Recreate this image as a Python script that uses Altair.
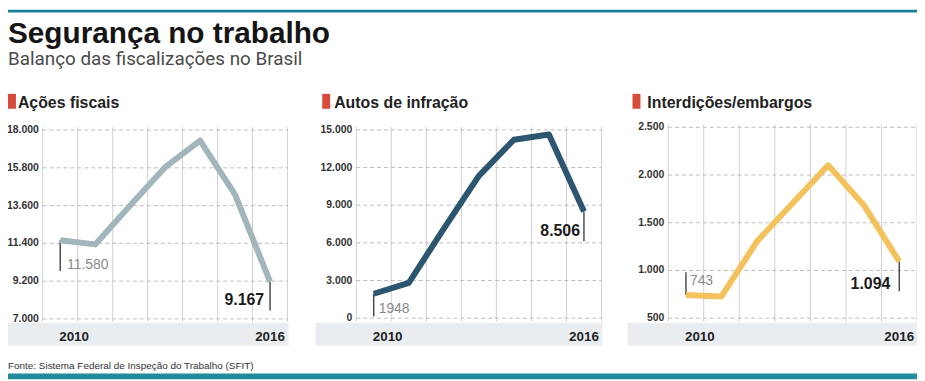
import altair as alt
import pandas as pd

# ---------------- data ----------------
years = [2010, 2011, 2012, 2013, 2014, 2015, 2016]
acoes = [11580, 11340, 13600, 15840, 17390, 14240, 9167]
autos = [1948, 2820, 7130, 11340, 14210, 14630, 8506]
interd = [743, 728, 1306, 1704, 2102, 1687, 1094]

panel_titles = ["Ações fiscais", "Autos de infração", "Interdições/embargos"]
ticks_acoes = [7000, 9200, 11400, 13600, 15800, 18000]
ticks_autos = [0, 3000, 6000, 9000, 12000, 15000]
ticks_interd = [500, 1000, 1500, 2000, 2500]
start_labels = ["11.580", "1948", "743"]
end_labels = ["9.167", "8.506", "1.094"]
year_labels = ["2010", "2016"]

chart_title = "Segurança no trabalho"
chart_subtitle = "Balanço das fiscalizações no Brasil"
source_note = "Fonte: Sistema Federal de Inspeção do Trabalho (SFIT)"

series = [acoes, autos, interd]
ticks = [ticks_acoes, ticks_autos, ticks_interd]

# ---------------- style / layout ----------------
W, H = 917, 373
FONT = "Liberation Sans"
layout = [
    dict(color="#a2b5ba", xr=[35, 282], yr=[312, 121.5], sq=0, tx=10,
         start=(31, 7, 25), end=(29, -6, 18)),
    dict(color="#2c5570", xr=[351.3, 598.7], yr=[311.3, 121.3], sq=317, tx=329,
         start=(23, 5, 15), end=(30, -4, 20)),
    dict(color="#f4c25c", xr=[666, 917], yr=[311.3, 118.7], sq=630, tx=645,
         start=(-23, 4, -14), end=(30, -9, 23)),
]


def fmt(v):
    return f"{v:,}".replace(",", ".")


def panel(i):
    p = layout[i]
    vals = series[i]
    tk = ticks[i]
    lo, hi = years[0] - 0.5, years[-1] + 0.5

    def X(f):
        return alt.X(f, type="quantitative", axis=None,
                     scale=alt.Scale(domain=[lo, hi], range=p["xr"], nice=False, zero=False))

    def Y(f):
        return alt.Y(f, type="quantitative", axis=None,
                     scale=alt.Scale(domain=[tk[0], tk[-1]], range=p["yr"], nice=False, zero=False))

    df = pd.DataFrame({"year": years, "value": vals})
    grid_x = pd.DataFrame({"gx": [y - 0.5 for y in years] + [hi], "top": tk[-1]})
    grid_y = pd.DataFrame({"tick": tk, "x0": lo, "x1": hi, "label": [fmt(t) for t in tk]})
    band = pd.DataFrame({"x0": [lo], "x1": [hi]})
    first = pd.DataFrame({"year": [years[0]], "value": [vals[0]], "label": [start_labels[i]]})
    last = pd.DataFrame({"year": [years[-1]], "value": [vals[-1]], "label": [end_labels[i]]})
    yl_first = pd.DataFrame({"year": [int(year_labels[0])], "label": [year_labels[0]]})
    yl_last = pd.DataFrame({"year": [int(year_labels[1])], "label": [year_labels[1]]})
    head = pd.DataFrame({"t": [panel_titles[i]]})

    layers = []
    layers.append(alt.Chart(band).mark_rect(color="#e9edf0", xOffset=-41, x2Offset=1).encode(
        x=X("x0"), x2=alt.X2("x1"), y=alt.value(316), y2=alt.value(339)))
    layers.append(alt.Chart(grid_x).mark_rule(color="#d0d0d0", strokeWidth=1, yOffset=-3).encode(
        x=X("gx"), y=Y("top"), y2=alt.value(315)))
    layers.append(alt.Chart(grid_y).mark_rule(color="#bdbdbd", strokeWidth=1, strokeDash=[4, 3]).encode(
        x=X("x0"), x2=alt.X2("x1"), y=Y("tick")))
    layers.append(alt.Chart(grid_y).mark_text(align="right", baseline="middle", dx=-4, font=FONT,
                                              fontSize=10.5, fontWeight="bold", color="#333333").encode(
        x=X("x0"), y=Y("tick"), text="label:N"))
    so, sdx, sdy = p["start"]
    eo, edx, edy = p["end"]
    layers.append(alt.Chart(first).mark_rule(color="#222222", strokeWidth=1.2, y2Offset=so).encode(
        x=X("year"), y=Y("value"), y2=alt.Y2("value")))
    layers.append(alt.Chart(last).mark_rule(color="#222222", strokeWidth=1.2, y2Offset=eo).encode(
        x=X("year"), y=Y("value"), y2=alt.Y2("value")))
    layers.append(alt.Chart(df).mark_line(color=p["color"], strokeWidth=6, strokeJoin="round").encode(
        x=X("year"), y=Y("value")))
    layers.append(alt.Chart(first).mark_text(align="left", baseline="middle", dx=sdx, dy=sdy, font=FONT,
                                             fontSize=14, color="#8a8a8a").encode(
        x=X("year"), y=Y("value"), text="label:N"))
    layers.append(alt.Chart(last).mark_text(align="right", baseline="middle", dx=edx, dy=edy, font=FONT,
                                            fontSize=16, fontWeight="bold", color="#1a1a1a").encode(
        x=X("year"), y=Y("value"), text="label:N"))
    layers.append(alt.Chart(yl_first).mark_text(align="left", baseline="middle", dx=-1, font=FONT,
                                                fontSize=13.5, fontWeight="bold", color="#222222").encode(
        x=X("year"), y=alt.value(330), text="label:N"))
    layers.append(alt.Chart(yl_last).mark_text(align="center", baseline="middle", font=FONT,
                                               fontSize=13.5, fontWeight="bold", color="#222222").encode(
        x=X("year"), y=alt.value(330), text="label:N"))
    layers.append(alt.Chart(head).mark_rect(color="#d84a3a").encode(
        x=alt.value(p["sq"]), x2=alt.value(p["sq"] + 8), y=alt.value(85), y2=alt.value(100)))
    layers.append(alt.Chart(head).mark_text(align="left", baseline="alphabetic", font=FONT,
                                            fontSize=16, fontWeight="bold", color="#222222").encode(
        x=alt.value(p["tx"]), y=alt.value(99), text="t:N"))
    return layers


layers = []
one = pd.DataFrame({"t": [chart_title], "s": [chart_subtitle], "f": [source_note]})
layers.append(alt.Chart(one).mark_rect(color="#1a7f94").encode(
    x=alt.value(0), x2=alt.value(W), y=alt.value(0), y2=alt.value(3)))
layers.append(alt.Chart(one).mark_rect(color="#238c9c").encode(
    x=alt.value(0), x2=alt.value(W), y=alt.value(367), y2=alt.value(373)))
layers.append(alt.Chart(one).mark_text(align="left", baseline="alphabetic", font=FONT,
                                       fontSize=30, fontWeight="bold", color="#151515").encode(
    x=alt.value(0), y=alt.value(34), text="t:N"))
layers.append(alt.Chart(one).mark_text(align="left", baseline="alphabetic", font="Roboto",
                                       fontSize=19, color="#4a4a4a").encode(
    x=alt.value(0), y=alt.value(56), text="s:N"))
layers.append(alt.Chart(one).mark_text(align="left", baseline="alphabetic", font=FONT,
                                       fontSize=10, color="#333333").encode(
    x=alt.value(0), y=alt.value(363), text="f:N"))
for i in range(3):
    layers.extend(panel(i))

chart = alt.layer(*layers).resolve_scale(x="independent", y="independent").properties(
    width=W, height=H, padding=0, autosize=alt.AutoSizeParams(type="none")
).configure_view(stroke=None)

chart.save("out.html", embed_options={"renderer": "svg", "actions": False})
